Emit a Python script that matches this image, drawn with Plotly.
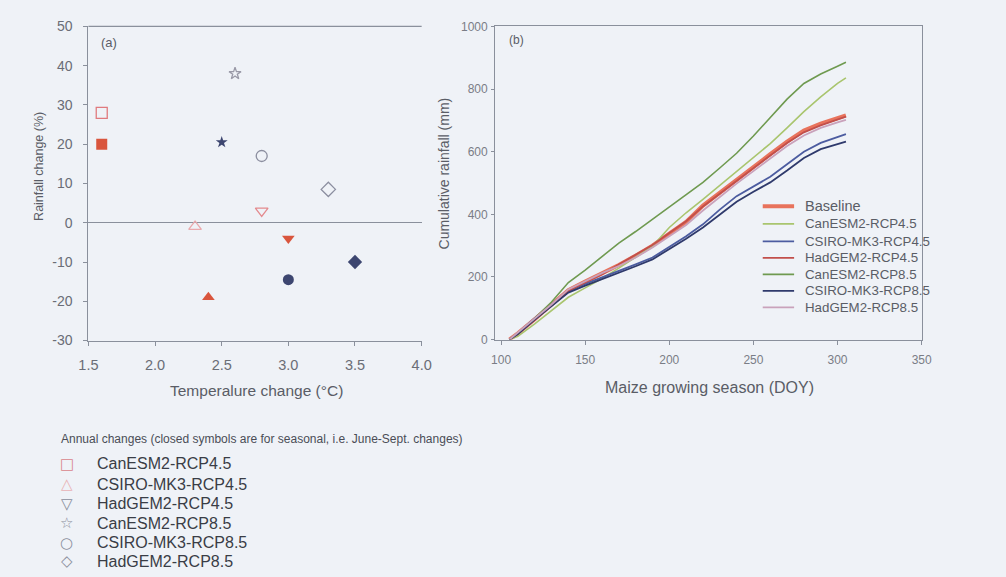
import plotly.graph_objects as go

# ---------------- Panel (a): temperature vs rainfall change ----------------
models = ["CanESM2-RCP4.5", "CSIRO-MK3-RCP4.5", "HadGEM2-RCP4.5",
          "CanESM2-RCP8.5", "CSIRO-MK3-RCP8.5", "HadGEM2-RCP8.5"]
annual_temp = [1.6, 2.3, 2.8, 2.6, 2.8, 3.3]
annual_rain = [28, -1, 3, 38, 17, 8.5]
season_temp = [1.6, 2.4, 3.0, 2.5, 3.0, 3.5]
season_rain = [20, -19, -4, 20.5, -14.5, -10]
open_symbols = ["square-open", "triangle-up-open", "triangle-down-open",
                "star-open", "circle-open", "diamond-open"]
closed_symbols = ["square", "triangle-up", "triangle-down",
                  "star", "circle", "diamond"]
open_colors = ["#e07a7e", "#eaa9ad", "#e48a8e", "#9a9aa8", "#8c8fa0", "#8c8fa0"]
closed_colors = ["#d9553d", "#d9553d", "#d9553d", "#3d4670", "#3d4670", "#3d4670"]
marker_sizes = [11, 11, 11, 9, 11, 11]
key_glyphs = ["\u25a1", "\u25b3", "\u25bd", "\u2606", "\u25cb", "\u25c7"]
key_colors = ["#d9868c", "#e9b3b6", "#8a8e9c", "#8a8e9c", "#8a8e9c", "#8a8e9c"]
rain_ticks = [-30, -20, -10, 0, 10, 20, 30, 40, 50]
rain_ticktext = ["-30", "-20", "-10", "0", "10", "20", "30", "40", "50"]

# ---------------- Panel (b): cumulative rainfall ----------------
doy = [105, 110, 120, 130, 140, 150, 160, 170, 180, 190, 200,
       210, 220, 230, 240, 250, 260, 270, 280, 290, 300, 305]
baseline = [0, 20, 65, 110, 158, 185, 210, 238, 268, 300, 338,
            376, 428, 470, 512, 552, 592, 632, 668, 690, 708, 716]
canesm_45 = [0, 10, 50, 92, 135, 165, 195, 228, 262, 298, 358,
             405, 448, 492, 536, 580, 626, 676, 728, 775, 818, 836]
csiro_45 = [0, 20, 68, 112, 155, 178, 198, 218, 240, 262, 295,
            330, 368, 415, 458, 490, 520, 560, 600, 628, 648, 656]
hadgem_45 = [0, 18, 62, 108, 155, 182, 208, 240, 270, 302, 340,
             378, 425, 466, 508, 548, 588, 628, 662, 684, 702, 712]
canesm_85 = [0, 18, 68, 120, 182, 222, 265, 308, 345, 385, 425,
             462, 502, 548, 595, 650, 710, 768, 818, 848, 873, 886]
csiro_85 = [0, 18, 64, 108, 150, 172, 192, 212, 234, 256, 288,
            322, 358, 400, 440, 472, 502, 540, 580, 608, 625, 632]
hadgem_85 = [0, 22, 66, 112, 160, 186, 212, 235, 262, 294, 330,
             366, 412, 455, 498, 538, 578, 618, 652, 676, 694, 702]

line_names = ["Baseline", "CanESM2-RCP4.5", "CSIRO-MK3-RCP4.5", "HadGEM2-RCP4.5",
              "CanESM2-RCP8.5", "CSIRO-MK3-RCP8.5", "HadGEM2-RCP8.5"]
line_values = [baseline, canesm_45, csiro_45, hadgem_45, canesm_85, csiro_85, hadgem_85]
line_colors = ["#e8735c", "#a9c56e", "#4c5ca0", "#c24f4b", "#6f9a50", "#2f3a6c", "#c9a2bb"]
line_widths = [4, 1.6, 1.8, 1.8, 1.6, 1.8, 1.8]

W, H = 1006, 577
BG = "#eff2f7"
FONT = "Arial, Liberation Sans, sans-serif"
AXC = "#8a909c"
TXT = "#5a5d66"

fig = go.Figure()

# open (annual) symbols
for i, m in enumerate(models):
    fig.add_trace(go.Scatter(
        x=[annual_temp[i]], y=[annual_rain[i]], mode="markers", name=m,
        marker=dict(symbol=open_symbols[i], size=marker_sizes[i],
                    color=open_colors[i], line=dict(width=1.3, color=open_colors[i])),
        xaxis="x", yaxis="y", showlegend=False))

# closed (seasonal) symbols
for i, m in enumerate(models):
    fig.add_trace(go.Scatter(
        x=[season_temp[i]], y=[season_rain[i]], mode="markers", name=m + " (JJAS)",
        marker=dict(symbol=closed_symbols[i], size=marker_sizes[i],
                    color=closed_colors[i], line=dict(width=0)),
        xaxis="x", yaxis="y", showlegend=False))

# cumulative rainfall lines
for name, vals, col, w in zip(line_names, line_values, line_colors, line_widths):
    fig.add_trace(go.Scatter(
        x=doy, y=vals, mode="lines", name=name,
        line=dict(color=col, width=w),
        xaxis="x2", yaxis="y2", showlegend=False))

def px_x(p):
    # pixel -> paper fraction
    return p / W

def px_y(p):
    return 1 - p / H

axis_common = dict(showline=True, linecolor=AXC, linewidth=1.2, ticks="outside",
                   tickcolor=AXC, showgrid=False, zeroline=False)

fig.update_layout(
    width=W, height=H,
    margin=dict(l=0, r=0, t=0, b=0),
    paper_bgcolor=BG, plot_bgcolor=BG,
    font=dict(family=FONT, color=TXT),
    xaxis=dict(domain=[px_x(80), px_x(420)], range=[1.5, 4.0], dtick=0.5,
               tickformat=".1f", tickfont=dict(size=14.5, color="#6a6d76"), ticklen=4,
               ticklabelstandoff=7, anchor="y", **axis_common),
    yaxis=dict(domain=[px_y(342), px_y(19)], range=[-30, 50],
               tickvals=rain_ticks, ticktext=rain_ticktext, ticklen=4,
               tickfont=dict(size=14, color="#6a6d76"), ticklabelstandoff=8, anchor="x",
               **{**axis_common, "zeroline": True}, zerolinecolor=AXC, zerolinewidth=1),
    xaxis2=dict(domain=[px_x(495), px_x(931)], range=[96.5, 350.5],
                tickvals=[100, 150, 200, 250, 300, 350],
                tickfont=dict(size=12, color="#7a7d86"), ticklen=4, ticklabelstandoff=5,
                anchor="y2", mirror=True, **axis_common),
    yaxis2=dict(domain=[px_y(341), px_y(19)], range=[0, 1000], dtick=200,
                tickfont=dict(size=12, color="#7a7d86"), ticklen=3, ticklabelstandoff=1,
                anchor="x2", mirror=True, **axis_common),
    showlegend=False,
)

# top border of panel (a)
fig.add_shape(type="line", xref="x domain", yref="y domain", x0=0, x1=1, y0=1, y1=1,
              line=dict(color=AXC, width=1.2))

def label(text, x, y, size, color=TXT, anchor="center", angle=0):
    fig.add_annotation(text=text, x=px_x(x), y=px_y(y), xref="paper", yref="paper",
                       showarrow=False, xanchor=anchor, yanchor="middle",
                       textangle=angle, font=dict(size=size, color=color, family=FONT))

label("(a)", 101, 35, 13)
label("(b)", 517, 33, 12)
label("Temperalure change (°C)", 252, 393, 15.5)
label("Maize growing season (DOY)", 714, 390, 16)
label("Rainfall change (%)", 30, 163, 12.5, angle=-90)
label("Cumulative rainfall (mm)", 443, 170, 14, angle=-90)

# key for the cumulative rainfall lines
line_key_rows = [204, 222, 240, 257, 274, 291, 308]
for name, col, w, yk in zip(line_names, line_colors, line_widths, line_key_rows):
    fig.add_shape(type="line", xref="paper", yref="paper",
                  x0=px_x(768), x1=px_x(800), y0=px_y(yk), y1=px_y(yk),
                  line=dict(color=col, width=w))
    label(name, 809, yk, 14.5 if name == "Baseline" else 13.3, color="#5a5d66", anchor="left")

# key for the scenario symbols
label("Annual changes (closed symbols are for seasonal, i.e. June-Sept. changes)",
      50, 443, 12, color="#4a4d56", anchor="left")
symbol_key_rows = [469, 490, 510, 530, 550, 569]
for m, g, gc, yk in zip(models, key_glyphs, key_colors, symbol_key_rows):
    fig.add_annotation(text=g, x=px_x(58), y=px_y(yk), xref="paper", yref="paper",
                       showarrow=False, xanchor="center", yanchor="middle",
                       font=dict(size=15, color=gc, family="DejaVu Sans"))
    label(m, 87, yk, 16, color="#3a3d46", anchor="left")

fig.write_html("out.html")
